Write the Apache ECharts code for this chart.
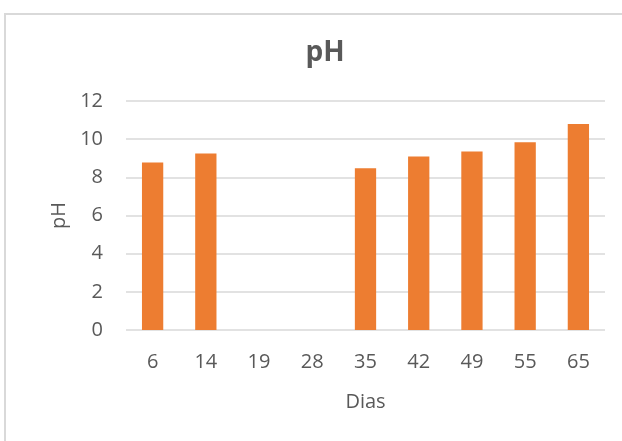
<!DOCTYPE html>
<html>
<head>
<meta charset="utf-8">
<script src="https://cdn.jsdelivr.net/npm/echarts@6/dist/echarts.min.js"></script>
<style>
  html, body { margin: 0; padding: 0; background: #ffffff; }
  #chart { width: 622px; height: 441px; }
</style>
</head>
<body>
<div id="chart"></div>
<script>
// Sampling days and measured pH (no reading on days 19 and 28)
const dias = ['6', '14', '19', '28', '35', '42', '49', '55', '65'];
const phValues = [8.78, 9.25, null, null, 8.48, 9.09, 9.35, 9.84, 10.80];
const yTicks = { min: 0, max: 12, interval: 2 };

const textColor = '#595959';
const fontFamily = '"Open Sans", "Noto Sans", sans-serif';

const chart = echarts.init(document.getElementById('chart'), null, { renderer: 'canvas' });

chart.setOption({
  animation: false,
  backgroundColor: '#ffffff',
  title: {
    text: 'pH',
    left: 320,
    top: 34,
    textAlign: 'center',
    textStyle: { fontFamily, fontSize: 28, fontWeight: 'bold', color: textColor }
  },
  graphic: [{
    type: 'rect',
    shape: { x: 5, y: 14, width: 640, height: 460 },
    style: { fill: 'none', stroke: '#d9d9d9', lineWidth: 2 },
    silent: true
  }],
  grid: { left: 126, right: 17, top: 101, bottom: 111 },
  xAxis: {
    type: 'category',
    data: dias,
    name: 'Dias',
    nameLocation: 'middle',
    nameGap: 62,
    nameTextStyle: { fontFamily, fontSize: 20, color: textColor },
    axisLine: { show: false },
    axisTick: { show: false },
    axisLabel: { fontFamily, fontSize: 20, color: textColor, margin: 22 }
  },
  yAxis: {
    type: 'value',
    min: yTicks.min,
    max: yTicks.max,
    interval: yTicks.interval,
    name: 'pH',
    nameLocation: 'middle',
    nameGap: 57,
    nameRotate: 90,
    nameTextStyle: { fontFamily, fontSize: 20, color: textColor },
    axisLine: { show: false },
    axisTick: { show: false },
    axisLabel: { fontFamily, fontSize: 20, color: textColor, margin: 23 },
    splitLine: { lineStyle: { color: '#d9d9d9', width: 1.5 } }
  },
  series: [{
    type: 'bar',
    data: phValues,
    barWidth: '40%',
    itemStyle: { color: '#ED7D31' }
  }]
});
</script>
</body>
</html>
